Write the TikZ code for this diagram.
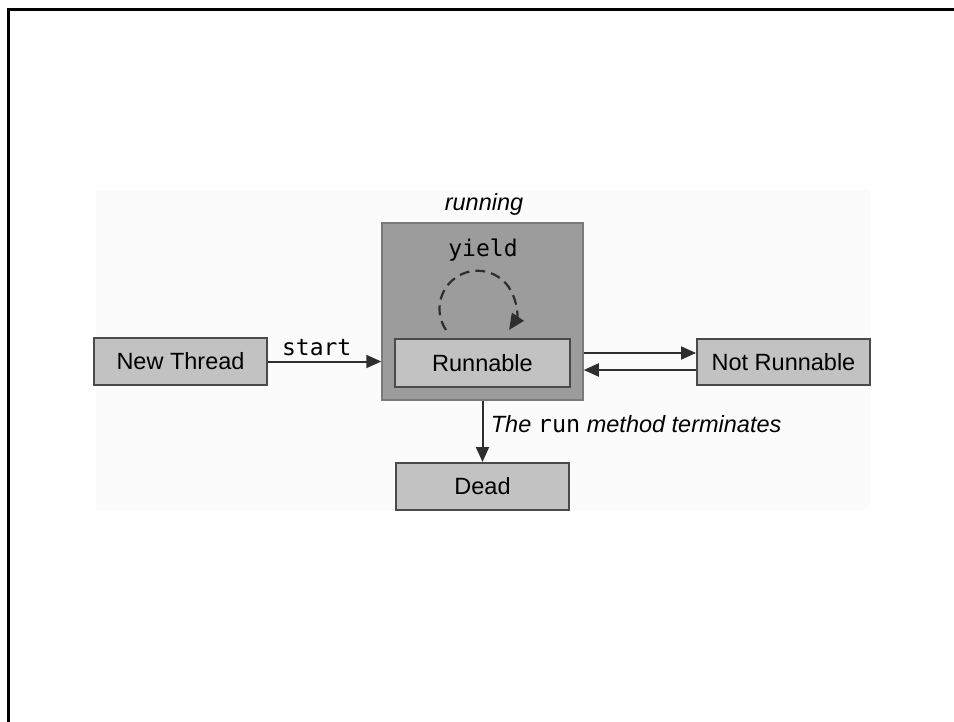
\documentclass[tikz,border=0pt]{standalone}
\usepackage{fontspec}
\setmainfont{Liberation Sans}
\setmonofont{DejaVu Sans Mono}
\usetikzlibrary{arrows.meta}
\definecolor{outerfill}{HTML}{9C9C9C}
\definecolor{outerdraw}{HTML}{7A7A7A}
\definecolor{boxfill}{HTML}{C2C2C2}
\definecolor{boxdraw}{HTML}{4A4A4A}
\definecolor{arrcol}{HTML}{2E2E2E}
\definecolor{bgfaint}{HTML}{FBFBFB}
\tikzset{
  statebox/.style={draw=boxdraw, fill=boxfill, line width=2pt, rectangle, inner sep=0pt},
  outerbox/.style={draw=outerdraw, fill=outerfill, line width=1.5pt, rectangle, inner sep=0pt},
  arr/.style={draw=arrcol, line width=2pt, -{Triangle[length=15pt,width=13pt]}},
  loopline/.style={draw=arrcol, line width=2.2pt, dash pattern=on 10pt off 6pt, -{Triangle[length=16pt,width=14pt]}},
}
\begin{document}
\begin{tikzpicture}[x=1pt,y=-1pt,font=\fontsize{23.5}{27}\selectfont]
\useasboundingbox (0,0) rectangle (954,722);
\fill[white] (0,0) rectangle (954,722);
\fill[bgfaint] (96,190) rectangle (870,510);
\draw[line width=3pt] (8,722) -- (8,9.5) -- (954,9.5);

\node[outerbox, minimum width=201pt, minimum height=177pt] (outer) at (482.5,311.5) {};
\node[font=\fontsize{23.5}{27}\selectfont\itshape] (running) at (484,204) {running};
\node[font=\fontsize{23}{27}\selectfont\ttfamily] (yield) at (483,250) {yield};

\node[statebox, minimum width=173pt, minimum height=47pt] (nt) at (180.5,361.5) {New Thread};
\node[statebox, minimum width=175pt, minimum height=48pt] (run) at (482.5,363) {Runnable};
\node[statebox, minimum width=173pt, minimum height=46pt] (nr) at (783.5,362) {Not Runnable};
\node[statebox, minimum width=173pt, minimum height=47pt] (dead) at (482.5,486.5) {Dead};

\draw[loopline] (446,330) arc[start angle=146, end angle=394, radius=38];

\draw[arr] (nt.east) -- (outer.west |- nt.east)
  node[pos=0.43, above=1pt, font=\fontsize{23}{27}\selectfont\ttfamily] {start};

\coordinate (nrt) at ([yshift=9pt]nr.west);
\coordinate (nrb) at ([yshift=-8pt]nr.west);
\draw[arr] (outer.east |- nrt) -- (nrt);
\draw[arr] (nrb) -- (outer.east |- nrb);

\draw[arr] (outer.south) -- (dead.north)
  node[pos=0.38, right=4pt] {\itshape The \texttt{\upshape run} method terminates};
\end{tikzpicture}
\end{document}
